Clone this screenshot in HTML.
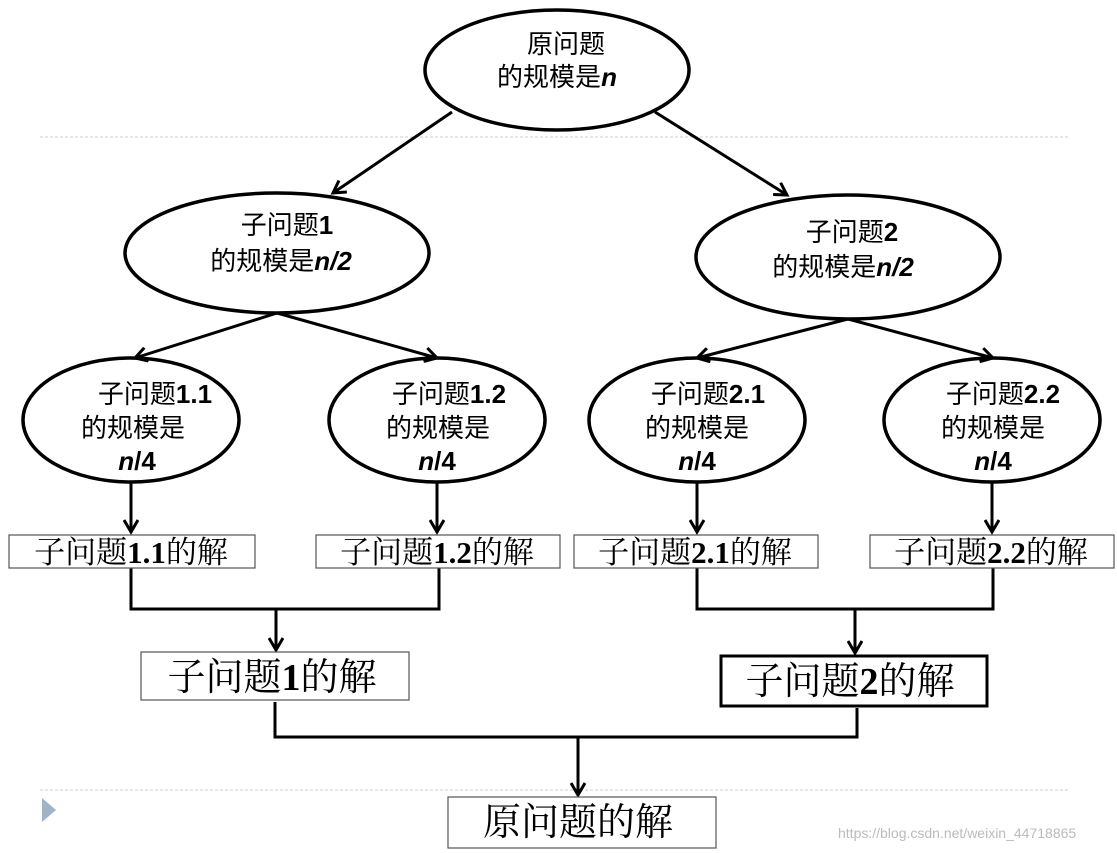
<!DOCTYPE html>
<html><head><meta charset="utf-8"><style>
html,body{margin:0;padding:0;background:#fff;}
svg{display:block;}
.e{font-family:"Liberation Sans","Noto Sans CJK SC",sans-serif;font-size:26px;fill:#000;text-anchor:middle;}
.b{font-family:"Liberation Serif","Noto Serif CJK SC",serif;fill:#000;text-anchor:middle;}
.n{font-weight:bold;font-style:italic;}
.bd{font-weight:bold;}
</style></head><body>
<svg width="1117" height="853" viewBox="0 0 1117 853" xmlns="http://www.w3.org/2000/svg">
<defs><marker id="a" markerWidth="16" markerHeight="16" refX="13" refY="8" orient="auto" markerUnits="userSpaceOnUse"><path d="M1,1 L13,8 L1,15" fill="none" stroke="#000" stroke-width="3"/></marker></defs>
<line x1="40" y1="137" x2="1070" y2="137" stroke="#c8d2dc" stroke-dasharray="3,2"/>
<line x1="40" y1="790" x2="1070" y2="790" stroke="#c8d2dc" stroke-dasharray="3,2"/>
<polygon points="42,798 56,810 42,822" fill="#9fb4c8"/>
<g fill="none" stroke="#000" stroke-width="3.5">
<ellipse cx="557" cy="70" rx="132" ry="60"/>
<ellipse cx="277" cy="253" rx="152" ry="60"/>
<ellipse cx="848" cy="257" rx="152" ry="62"/>
<ellipse cx="131" cy="420" rx="108" ry="62"/>
<ellipse cx="437" cy="420" rx="108" ry="62"/>
<ellipse cx="697" cy="420" rx="108" ry="62"/>
<ellipse cx="992" cy="420" rx="108" ry="62"/>
</g>
<g stroke="#000" stroke-width="3" fill="none" marker-end="url(#a)">
<line x1="452" y1="112" x2="333" y2="193"/>
<line x1="655" y1="112" x2="787" y2="195"/>
<line x1="277" y1="313" x2="135" y2="358"/>
<line x1="277" y1="313" x2="437" y2="358"/>
<line x1="848" y1="319" x2="697" y2="358"/>
<line x1="848" y1="319" x2="993" y2="358"/>
<line x1="131" y1="482" x2="131" y2="532"/>
<line x1="437" y1="482" x2="437" y2="532"/>
<line x1="697" y1="482" x2="697" y2="532"/>
<line x1="992" y1="482" x2="992" y2="532"/>
<line x1="276" y1="609" x2="276" y2="650"/>
<line x1="855" y1="609" x2="855" y2="653"/>
<line x1="578" y1="737" x2="578" y2="795"/>
</g>
<g stroke="#000" stroke-width="3" fill="none">
<polyline points="131,568 131,609 439,609 439,568"/>
<polyline points="697,568 697,609 993,609 993,568"/>
<polyline points="275,702 275,737 857,737 857,708"/>
</g>
<g fill="#fff" stroke="#555" stroke-width="1.2">
<rect x="9" y="535" width="246" height="33"/>
<rect x="316" y="535" width="244" height="33"/>
<rect x="574" y="535" width="244" height="33"/>
<rect x="870" y="535" width="244" height="33"/>
<rect x="141" y="652" width="268" height="48"/>
<rect x="448" y="797" width="268" height="51"/>
</g>
<rect x="721" y="656" width="266" height="50" fill="#fff" stroke="#000" stroke-width="3"/>
<text class="e" x="566" y="53">原问题</text>
<text class="e" x="557" y="86">的规模是<tspan class="n">n</tspan></text>
<text class="e" x="287" y="234">子问题<tspan class="bd">1</tspan></text>
<text class="e" x="281" y="270">的规模是<tspan class="n">n/2</tspan></text>
<text class="e" x="852" y="241">子问题<tspan class="bd">2</tspan></text>
<text class="e" x="843" y="276">的规模是<tspan class="n">n/2</tspan></text>
<text class="e" x="155" y="403">子问题<tspan class="bd">1.1</tspan></text>
<text class="e" x="133" y="437">的规模是</text>
<text class="e" x="137" y="470"><tspan class="n">n</tspan><tspan class="bd">/4</tspan></text>
<text class="e" x="449" y="403">子问题<tspan class="bd">1.2</tspan></text>
<text class="e" x="438" y="437">的规模是</text>
<text class="e" x="437" y="470"><tspan class="n">n</tspan><tspan class="bd">/4</tspan></text>
<text class="e" x="708" y="403">子问题<tspan class="bd">2.1</tspan></text>
<text class="e" x="697" y="437">的规模是</text>
<text class="e" x="697" y="470"><tspan class="n">n</tspan><tspan class="bd">/4</tspan></text>
<text class="e" x="1003" y="403">子问题<tspan class="bd">2.2</tspan></text>
<text class="e" x="993" y="437">的规模是</text>
<text class="e" x="993" y="470"><tspan class="n">n</tspan><tspan class="bd">/4</tspan></text>
<g class="b" font-size="31">
<text x="131" y="563">子问题<tspan class="bd">1.1</tspan>的解</text>
<text x="437" y="563">子问题<tspan class="bd">1.2</tspan>的解</text>
<text x="695" y="563">子问题<tspan class="bd">2.1</tspan>的解</text>
<text x="991" y="563">子问题<tspan class="bd">2.2</tspan>的解</text>
</g>
<g class="b" font-size="38">
<text x="272" y="690">子问题<tspan class="bd">1</tspan>的解</text>
<text x="850" y="694">子问题<tspan class="bd">2</tspan>的解</text>
<text x="578" y="835">原问题的解</text>
</g>
<text x="838" y="838" font-family="Liberation Sans,sans-serif" font-size="14" fill="#bbb">https://blog.csdn.net/weixin_44718865</text>
</svg>
</body></html>
